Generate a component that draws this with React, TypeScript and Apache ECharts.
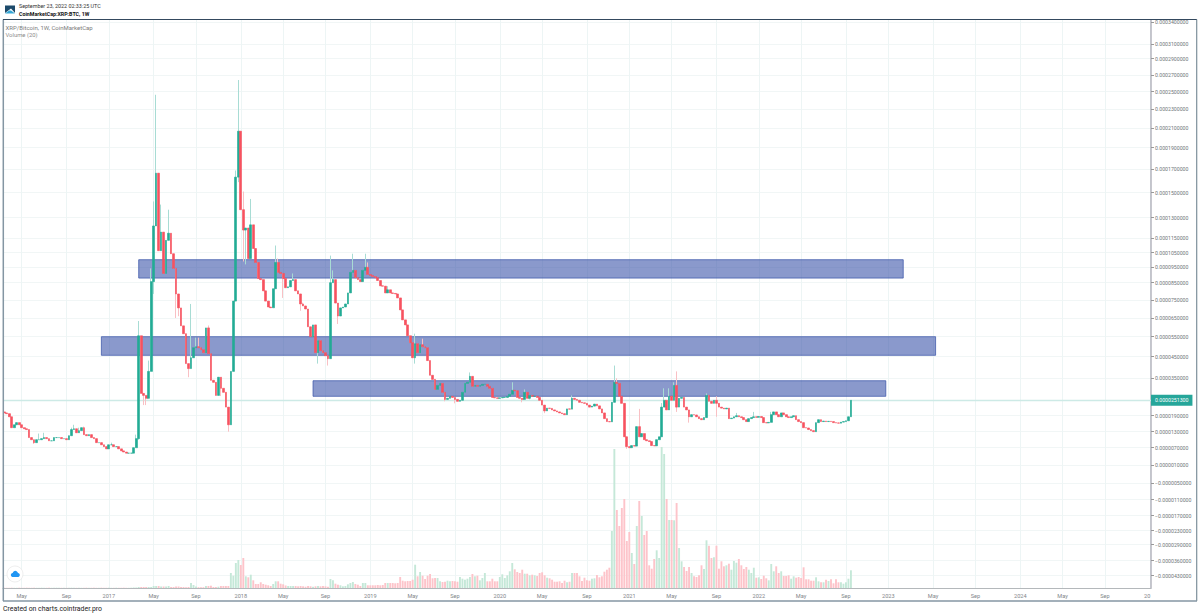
import * as echarts from "echarts";
import { useEffect, useRef } from "react";

// prices below are in units of 0.0000001 BTC
const closes = [
  201, 198, 186, 145, 156, 164, 156, 145, 141, 138,
  108, 100, 89, 100, 100, 104, 108, 104, 96, 96,
  108, 108, 108, 104, 104, 100, 115, 138, 141, 126,
  134, 145, 119, 115, 119, 108, 104, 89, 89, 81,
  74, 66, 81, 81, 74, 74, 66, 59, 55, 51,
  51, 51, 70, 104, 555, 282, 273, 260, 382, 857,
  1240, 1667, 1064, 1195, 910, 1136, 1187, 1043, 943, 785,
  706, 608, 566, 418, 395, 445, 495, 500, 495, 485,
  470, 597, 465, 341, 332, 273, 355, 305, 287, 224,
  156, 382, 744, 1633, 2070, 1364, 1210, 1225, 1010, 1248,
  1079, 983, 877, 870, 803, 744, 711, 707, 815, 983,
  917, 910, 877, 821, 826, 864, 870, 803, 785, 728,
  717, 700, 603, 550, 613, 470, 530, 480, 470, 455,
  441, 850, 870, 733, 661, 706, 711, 728, 791, 917,
  930, 883, 870, 857, 930, 950, 903, 897, 890, 883,
  864, 832, 830, 791, 809, 791, 788, 785, 762, 695,
  640, 613, 555, 520, 445, 515, 470, 510, 500, 495,
  432, 364, 345, 300, 318, 327, 287, 255, 260, 269,
  264, 255, 247, 251, 287, 327, 332, 359, 314, 318,
  314, 318, 323, 323, 314, 305, 264, 262, 260, 262,
  264, 264, 269, 278, 296, 294, 264, 260, 255, 287,
  260, 273, 269, 269, 264, 251, 232, 209, 220, 219,
  213, 209, 205, 201, 198, 194, 217, 216, 260, 255,
  251, 243, 241, 239, 232, 224, 228, 236, 229, 217,
  201, 179, 168, 167, 243, 332, 327, 269, 239, 111,
  74, 70, 78, 76, 149, 111, 123, 100, 96, 93,
  78, 77, 100, 111, 224, 251, 213, 269, 251, 318,
  224, 260, 264, 224, 213, 186, 194, 193, 186, 179,
  175, 183, 273, 247, 239, 251, 239, 224, 220, 217,
  220, 179, 181, 186, 190, 186, 183, 175, 168, 179,
  183, 186, 184, 187, 183, 164, 163, 165, 194, 205,
  194, 186, 201, 194, 186, 183, 186, 190, 175, 168,
  164, 145, 144, 138, 134, 130, 164, 175, 168, 170,
  168, 169, 168, 164, 163, 162, 166, 168, 171, 186,
  251,
];

// [week index, price] of the wicks that stick out of the bodies
const highWicks = [
  [14, 123], [16, 126], [27, 145], [28, 156], [30, 145], [32, 149], [43, 89], [53, 119],
  [54, 634], [58, 432], [59, 943], [60, 1430], [61, 2465], [63, 1405], [66, 1364], [75, 728],
  [77, 545], [78, 545], [82, 610], [93, 1690], [94, 2640], [96, 1510], [99, 1450], [101, 1020],
  [109, 1100], [110, 1010], [116, 910], [120, 735], [131, 1030], [132, 930], [140, 1043],
  [145, 1043], [146, 983], [153, 810], [154, 830], [165, 566], [168, 540], [172, 350],
  [187, 377], [188, 355], [204, 332], [209, 300], [228, 273], [245, 409], [246, 350],
  [255, 217], [264, 240], [265, 305], [267, 305], [269, 332], [270, 382], [282, 282],
  [286, 269], [294, 201], [301, 205], [308, 205],
];
const lowWicks = [
  [12, 84], [54, 100], [56, 232], [57, 232], [60, 785], [69, 650], [70, 660], [74, 355],
  [87, 270], [90, 130], [94, 1590], [96, 990], [97, 970], [112, 762], [119, 690], [126, 418],
  [130, 409], [134, 618], [165, 418], [177, 247], [181, 239], [208, 243], [211, 255],
  [217, 200], [250, 66], [264, 205], [270, 205], [275, 164], [286, 186],
];

// bar heights, no scale can be read in the picture
const volumes = [
  3, 2, 2, 3, 2, 2, 3, 2, 2, 3, 2, 2, 3, 2, 2, 3, 2, 2, 3, 2, 2, 3, 2, 2, 3, 2, 2,
  3, 2, 2, 3, 2, 2, 3, 2, 2, 3, 2, 2, 3, 2, 2, 3, 2, 2, 3, 2, 2, 3, 2, 2, 3, 5, 5,
  10, 10, 10, 10, 10, 10, 20, 20, 20, 15, 15, 15, 20, 10, 10, 15, 15, 10, 10, 7, 10,
  50, 30, 15, 8, 8, 8, 20, 20, 23, 10, 10, 13, 20, 20, 20, 20,
  150, 123, 250, 280, 230, 300, 117, 107, 133, 77, 40, 40, 57, 40, 33, 27, 20, 40, 67, 67,
  43, 37, 25, 20, 20, 20, 20, 17, 20, 17, 13, 20, 17, 13, 17, 20, 17, 20, 17, 13,
  90, 77, 43, 33, 27, 17, 20, 37, 50, 60, 40, 33, 20, 50, 50, 27, 27, 27, 27, 30,
  27, 30, 50, 50, 50, 50, 47, 50, 110, 73, 67, 70, 70, 83, 233, 117, 160, 123, 90, 123,
  140, 97, 100, 100, 67, 60, 63, 73, 67, 70, 67, 63, 110, 93, 83, 93, 110, 140, 117, 123,
  77, 100, 150, 67, 67, 93, 67, 67, 110, 137,
  100, 127, 167, 250, 187, 160, 150, 183, 143, 143,
  127, 133, 127, 120, 150, 157, 127, 103, 97, 83,
  63, 63, 67, 50, 73, 57, 63, 150, 150, 150,
  117, 70, 103, 77, 73, 93, 97, 130, 107, 117,
  163, 183, 203, 570, 1390, 780, 620, 800, 890, 470,
  560, 350, 240, 620, 870, 720, 530, 570, 227, 193,
  290, 377, 300, 1410, 1340, 890, 680, 680, 677, 850,
  400, 267, 210, 170, 210, 150, 117, 110, 127, 227,
  190, 477, 423, 300, 307, 423, 193, 267, 217, 227,
  243, 183, 270, 253, 290, 227, 190, 210, 183, 150,
  203, 103, 107, 90, 123, 97, 77, 240, 167, 217,
  150, 167, 120, 120, 127, 93, 117, 103, 110, 100,
  207, 87, 87, 73, 73, 107, 67, 57, 57, 83,
  70, 87, 47, 87, 57, 57, 43, 57, 93, 177,
];

const tickLabels = [
  "0.0003400000", "0.0003100000", "0.0002900000", "0.0002700000", "0.0002500000", "0.0002300000",
  "0.0002100000", "0.0001900000", "0.0001700000", "0.0001500000", "0.0001300000", "0.0001150000",
  "0.0001050000", "0.0000950000", "0.0000850000", "0.0000750000", "0.0000650000", "0.0000550000",
  "0.0000450000", "0.0000350000", "0.0000190000", "0.0000130000", "0.0000070000", "0.0000010000",
  "\u22120.0000050000", "\u22120.0000110000", "\u22120.0000170000", "\u22120.0000230000",
  "\u22120.0000290000", "\u22120.0000360000", "\u22120.0000430000",
];
const tickPrices = [
  3400, 3100, 2900, 2700, 2500, 2300, 2100, 1900, 1700, 1500, 1300, 1150, 1050, 950, 850, 750, 650,
  550, 450, 350, 190, 130, 70, 10, -50, -110, -170, -230, -290, -360, -430,
];
// where each tick sits on the price axis, this scale is neither linear nor a clean log
const tickHeights = [
  565.7, 543.7, 529.3, 513, 496.3, 478.7, 459.7, 440.3, 418.7, 395.3, 370.3, 349.7, 335.3, 320.7,
  305.3, 288, 270, 251.3, 231.3, 209.7, 172.3, 156.3, 140.3, 123, 105, 88.3, 72.5, 57.5, 43.3, 27.3, 12.3,
];

const lastPrice = 251;
const lastPriceLabel = "0.0000251300";

const zones = [
  { from: "2017-03-20", to: "2023-02-06", top: 1002, bottom: 880 },
  { from: "2016-12-05", to: "2023-05-08", top: 550, bottom: 457 },
  { from: "2018-07-23", to: "2022-12-19", top: 339, bottom: 269 },
];

const upColor = "#22ab94";
const downColor = "#f7525f";
const upWick = "#a8dcd4";
const downWick = "#f9c0c4";
const upVolume = "#c5e8d8";
const downVolume = "#fdc4ca";

const WEEKS = 461;
const weeks: string[] = [];
const axisNames: Record<string, string> = {};
for (let i = 0; i < WEEKS; i++) {
  const d = new Date(Date.UTC(2016, 2, 7 + i * 7));
  const key = d.toISOString().slice(0, 10);
  weeks.push(key);
  const end = new Date(d.getTime() + 6 * 86400000);
  const first = d.getUTCMonth() !== end.getUTCMonth() || d.getUTCDate() === 1;
  if (first) {
    const m = end.getUTCMonth();
    if (m === 0) axisNames[key] = String(end.getUTCFullYear());
    if (m === 4) axisNames[key] = "May";
    if (m === 8) axisNames[key] = "Sep";
  }
}
// the 2025 label is cut by the price scale in the picture
const cutLabelWeek = weeks[459];

// price -> position on the price axis, between the known ticks
const scalePrice = (p: number) => {
  const xs = [...tickPrices, lastPrice].sort((a, b) => b - a);
  const ys = xs.map((v) => (v === lastPrice ? 187.7 : tickHeights[tickPrices.indexOf(v)]));
  for (let i = 0; i < xs.length - 1; i++) {
    if (p <= xs[i] && p >= xs[i + 1]) {
      return ys[i + 1] + ((p - xs[i + 1]) / (xs[i] - xs[i + 1])) * (ys[i] - ys[i + 1]);
    }
  }
  return p > xs[0] ? ys[0] : 0;
};

const wickMap = (list: number[][]) => new Map(list.map((w) => [w[0], w[1]]));

const App: React.FC = () => {
  const node = useRef<HTMLDivElement>(null);

  useEffect(() => {
    const chart = echarts.init(node.current, null, { renderer: "svg" });
    const highs = wickMap(highWicks);
    const lows = wickMap(lowWicks);
    const opens = closes.map((c, i) => (i === 0 ? 205 : closes[i - 1]));

    const wickData = closes.map((c, i) => {
      const hi = Math.max(opens[i], c, highs.get(i) ?? 0);
      const lo = Math.min(opens[i], c, lows.get(i) ?? Infinity);
      return [scalePrice(opens[i]), scalePrice(c), scalePrice(lo), scalePrice(hi)];
    });
    const bodyData = closes.map((c, i) => [
      scalePrice(opens[i]),
      scalePrice(c),
      scalePrice(Math.min(opens[i], c)),
      scalePrice(Math.max(opens[i], c)),
    ]);
    const volumeData = volumes.map((v, i) => ({
      value: v,
      itemStyle: { color: closes[i] >= opens[i] ? upVolume : downVolume },
    }));

    const labelAt = new Map(tickHeights.map((h, i) => [h, tickLabels[i]]));
    const font = "Roboto";
    const isMonthWeek = (_: number, value: string) => value in axisNames;

    const option: echarts.EChartsOption = {
      animation: false,
      backgroundColor: "#fff",
      grid: { left: 3, right: 49, top: 20, height: 568, containLabel: false },
      xAxis: {
        type: "category",
        data: weeks,
        boundaryGap: true,
        axisLine: { lineStyle: { color: "#b4b8bb", width: 1 } },
        axisTick: {
          length: 2,
          alignWithLabel: true,
          interval: isMonthWeek,
          lineStyle: { color: "#999" },
        },
        splitLine: {
          show: true,
          alignWithLabel: true,
          interval: isMonthWeek,
          lineStyle: { color: "#edf5f5", width: 1 },
        } as any,
        axisLabel: {
          interval: (_: number, value: string) => value in axisNames || value === cutLabelWeek,
          formatter: (value: string) => (value === cutLabelWeek ? "20" : axisNames[value] ?? ""),
          color: "#7f868a",
          fontSize: 5.6,
          fontFamily: font,
          margin: 5,
          hideOverlap: false,
        },
      },
      yAxis: [
        {
          type: "value",
          position: "right",
          min: 0,
          max: 568,
          axisLine: { show: true, lineStyle: { color: "#b5b5be", width: 1.5 } },
          axisTick: { show: true, length: 3, customValues: tickHeights, lineStyle: { color: "#999" } },
          splitLine: { show: true, lineStyle: { color: "#f1f6f6", width: 1 } },
          axisLabel: {
            customValues: tickHeights,
            formatter: (v: number) => labelAt.get(v) ?? "",
            color: "#6f7679",
            fontSize: 5.2,
            fontFamily: font,
            margin: 4,
          },
        },
        { type: "value", min: 0, max: 5680, show: false },
      ],
      series: [
        {
          type: "bar",
          name: "Volume",
          yAxisIndex: 1,
          data: volumeData,
          barWidth: 1.9,
          z: 1,
        },
        {
          type: "line",
          name: "zones",
          data: [],
          z: 2,
          clip: false,
          markLine: {
            silent: true,
            symbol: "none",
            animation: false,
            z: 1,
            lineStyle: { color: "#cdeae6", width: 1.4, type: "solid" },
            label: {
              show: true,
              position: "end",
              distance: 0,
              formatter: lastPriceLabel,
              color: "#fff",
              fontSize: 5.2,
              fontFamily: font,
              backgroundColor: "#26a69a",
              padding: [3, 4, 3, 4],
            },
            data: [{ yAxis: scalePrice(lastPrice) }],
          },
          markArea: {
            silent: true,
            animation: false,
            z: 2,
            itemStyle: {
              color: "rgba(60,85,170,0.6)",
              borderColor: "rgba(60,85,170,0.75)",
              borderWidth: 1,
            },
            data: zones.map((z) => [
              { xAxis: z.from, yAxis: scalePrice(z.top) },
              { xAxis: z.to, yAxis: scalePrice(z.bottom) },
            ]) as any,
          },
        },
        {
          type: "candlestick",
          name: "wicks",
          data: wickData,
          barWidth: 1,
          z: 3,
          itemStyle: { color: upWick, color0: downWick, borderColor: upWick, borderColor0: downWick, borderWidth: 1 },
        },
        {
          type: "candlestick",
          name: "XRP/Bitcoin",
          data: bodyData,
          barWidth: 2.2,
          z: 4,
          itemStyle: { color: upColor, color0: downColor, borderColor: upColor, borderColor0: downColor, borderWidth: 0.6 },
        },
      ],
      graphic: {
        elements: [
          { type: "line", z: 21, shape: { x1: 3.3, y1: 19.5, x2: 3.3, y2: 601 }, style: { stroke: "#8496a3", lineWidth: 1.5 } },
          { type: "line", z: 21, shape: { x1: 3, y1: 19.5, x2: 1197, y2: 19.5 }, style: { stroke: "#34495e", lineWidth: 1 } },
          { type: "line", z: 21, shape: { x1: 1196.7, y1: 19.5, x2: 1196.7, y2: 601 }, style: { stroke: "#7d8f9b", lineWidth: 1.2 } },
          { type: "line", z: 21, shape: { x1: 3, y1: 601, x2: 1197, y2: 601 }, style: { stroke: "#8496a3", lineWidth: 1.5 } },
          { type: "polygon", z: 21, shape: { points: [[5, 5.5], [15, 5.5], [15, 13], [11, 8.5], [9, 10], [5, 13]] }, style: { fill: "#1c4a6b" } },
          { type: "polygon", z: 21, shape: { points: [[5, 13.5], [9, 10.5], [11, 10.5], [15, 13.5]] }, style: { fill: "#35a7d6" } },
          { type: "text", z: 21, style: { x: 19, y: 3.5, text: "September 23, 2022 02:33:25 UTC", fill: "#333", font: "5.4px Roboto" } },
          { type: "text", z: 21, style: { x: 19, y: 11.5, text: "CoinMarketCap:XRP:BTC, 1W", fill: "#111", font: "bold 5.3px Roboto" } },
          { type: "text", z: 21, style: { x: 5.5, y: 24, text: "XRP/Bitcoin, 1W, CoinMarketCap", fill: "#7c7c7c", font: "6px Roboto" } },
          { type: "text", z: 21, style: { x: 5.5, y: 32, text: "Volume (20)", fill: "#8c8c8c", font: "5.9px Roboto" } },
          { type: "text", z: 21, style: { x: 3, y: 605.5, text: "Created on charts.cointrader.pro", fill: "#222", font: "6.9px Roboto" } },
          { type: "circle", z: 21, shape: { cx: 15, cy: 574, r: 8 }, style: { fill: "#fff", stroke: "#e6e6e6", lineWidth: 0.7 } },
          { type: "circle", z: 22, shape: { cx: 12.8, cy: 575, r: 2 }, style: { fill: "#2196f3" } },
          { type: "circle", z: 22, shape: { cx: 15.3, cy: 573.6, r: 2.7 }, style: { fill: "#2196f3" } },
          { type: "circle", z: 22, shape: { cx: 17.8, cy: 575, r: 2 }, style: { fill: "#2196f3" } },
          { type: "rect", z: 22, shape: { x: 12.8, y: 575, width: 5, height: 2 }, style: { fill: "#2196f3" } },
        ],
      },
    };

    chart.setOption(option);
    return () => {
      chart.dispose();
    };
  }, []);

  return (
    <div
      ref={node}
      style={{ position: "fixed", left: 0, top: 0, width: 1200, height: 616, background: "#fff" }}
    ></div>
  );
};

export default App;
